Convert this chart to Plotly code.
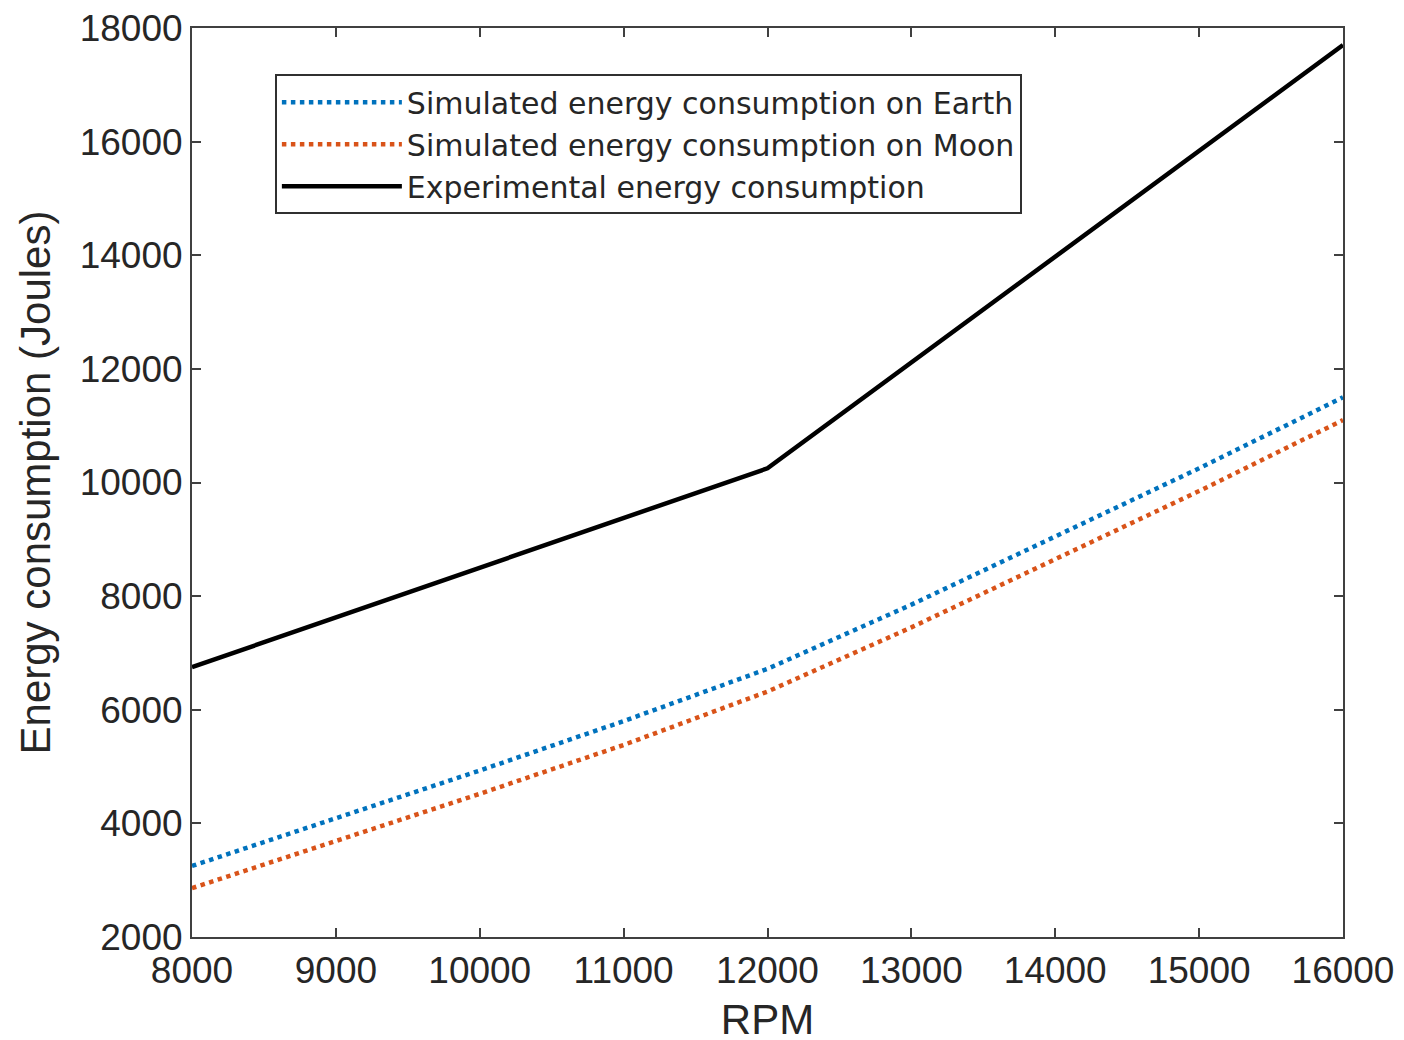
import plotly.graph_objects as go

rpm = [8000, 9000, 10000, 11000, 12000, 13000, 14000, 15000, 16000]
earth = [3250, 4080, 4930, 5800, 6720, 7850, 9050, 10250, 11500]
moon = [2860, 3680, 4520, 5380, 6320, 7450, 8650, 9850, 11100]
rpm_exp = [8000, 12000, 16000]
experimental = [6750, 10250, 17700]

x_ticks = [8000, 9000, 10000, 11000, 12000, 13000, 14000, 15000, 16000]
y_ticks = [2000, 4000, 6000, 8000, 10000, 12000, 14000, 16000, 18000]

FONT = "Liberation Sans, Arial, sans-serif"
AX = "#404040"
TXT = "#262626"

fig = go.Figure()
fig.add_trace(go.Scatter(x=rpm, y=earth, mode="lines",
                         name="Simulated energy consumption on Earth",
                         line=dict(color="#0072BD", width=4.5, dash="dot")))
fig.add_trace(go.Scatter(x=rpm, y=moon, mode="lines",
                         name="Simulated energy consumption on Moon",
                         line=dict(color="#D95319", width=4.5, dash="dot")))
fig.add_trace(go.Scatter(x=rpm_exp, y=experimental, mode="lines",
                         name="Experimental energy consumption",
                         line=dict(color="black", width=4.5)))

axis_common = dict(showline=True, mirror="ticks", linecolor=AX, linewidth=2,
                   ticks="inside", ticklen=9, tickwidth=2, tickcolor=AX,
                   showgrid=False, zeroline=False, ticklabeloverflow="allow",
                   automargin=False,
                   tickfont=dict(family=FONT, size=37, color=TXT))

fig.update_layout(
    width=1404, height=1040,
    margin=dict(l=184, r=69, t=20, b=111),
    paper_bgcolor="white", plot_bgcolor="white",
    font=dict(family=FONT, color=TXT),
    xaxis=dict(range=[8000, 16000], tickvals=x_ticks, ticktext=[str(v) for v in x_ticks],
               title=dict(text="RPM", font=dict(family=FONT, size=42, color=TXT), standoff=14),
               **axis_common),
    yaxis=dict(range=[2000, 18000], tickvals=y_ticks, ticktext=[str(v) for v in y_ticks],
               title=dict(text="Energy consumption (Joules)", font=dict(family=FONT, size=42, color=TXT), standoff=16),
               **axis_common),
    legend=dict(x=0.072, y=0.949, xanchor="left", yanchor="top",
                bgcolor="white", bordercolor="#303030", borderwidth=2,
                font=dict(family="DejaVu Sans, sans-serif", size=30, color=TXT),
                itemwidth=120, tracegroupgap=0),
    showlegend=True,
)

fig.write_html("out.html")
